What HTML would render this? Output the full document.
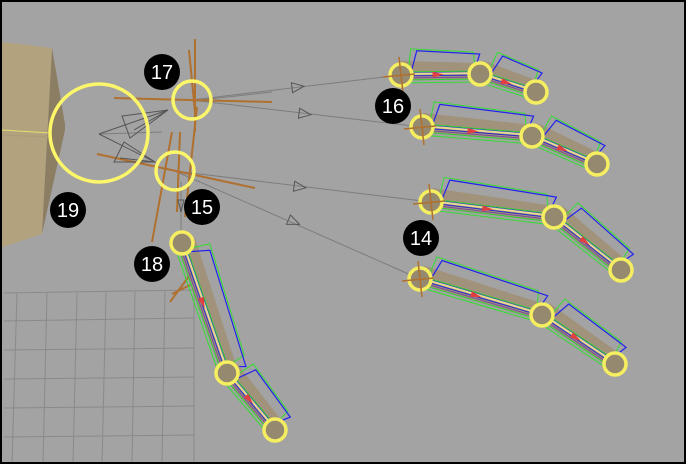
<!DOCTYPE html>
<html><head><meta charset="utf-8"><style>
html,body{margin:0;padding:0;background:#a3a3a3}
#v{position:relative;width:686px;height:464px;overflow:hidden;box-sizing:border-box;border:2px solid #000;background:#a3a3a3}
svg{position:absolute;left:0;top:0}
</style></head><body>
<div id="v">
<svg id="s" width="686" height="464" viewBox="0 0 686 464" font-family="Liberation Sans, sans-serif">
 <g stroke="#8a8a8a" stroke-width="1" fill="none">
  <path d="M2 291 L192 288 M2 319 L192 316 M2 348 L192 346 M2 377 L192 375 M2 406 L192 404 M2 435 L192 433"/>
  <path d="M15 291 L10 462 M45 291 L41 462 M75 291 L71 462 M104 290 L100 462 M133 290 L130 462 M163 289 L160 462 M192 288 L192 462"/>
 </g>
 <g>
  <polygon points="0,40 50,46 40,232 0,245" fill="#b3a27e"/>
  <polygon points="50,46 63,122 63,128 40,232" fill="#8c7e62"/>
  <line x1="0" y1="128" x2="48" y2="131" stroke="#e8e070" stroke-width="1"/>
  <line x1="0" y1="133" x2="48" y2="135" stroke="#a89a7a" stroke-width="1"/>
 </g>
 <g id="links" stroke="#7d7d7d" stroke-width="1" fill="none">
  <path d="M189 98 L399 73 M189 98 L420 125 M173 169 L429 200 M173 169 L418 277 M190 99 L270 90 M97 132 L160 130 M179 180 L179 232"/>
 </g>
 <g id="orange" stroke="#b0702f" stroke-width="2" fill="none">
  <path d="M112 96 L270 100 M193 37 L193 130 M187 48 L193 110 M195 105 L183 215 M95 152 L253 186 M170 130 L150 240 M178 130 L175 210 M168 300 L190 270 M170 292 L188 283"/>
 </g>
 <g stroke="#555" stroke-width="1" fill="none">
  <path d="M166 108 L120 114 L128 136 Z M120 114 L166 108 L132 128"/>
  <path d="M153 160 L122 140 L112 160 Z M122 140 L153 160 L118 156"/>
  <path d="M97 132 L166 108 M97 132 L153 160"/>
  <path d="M176 198 L182 198 L179 210 Z"/>
 </g>
 <circle cx="97" cy="131" r="49" fill="none" stroke="#fbf66a" stroke-width="3.5"/>
 <circle cx="190" cy="98" r="19" fill="none" stroke="#fbf66a" stroke-width="3.5"/>
 <circle cx="173" cy="169" r="19" fill="none" stroke="#fbf66a" stroke-width="3.5"/>
 <g id="fingers"></g>
 <g font-size="20" fill="#fff" text-anchor="middle">
  <g><circle cx="160" cy="70" r="18" fill="#000"/><text x="160" y="77" fill="#fff">17</text></g>
  <g><circle cx="391" cy="104" r="18" fill="#000"/><text x="391" y="111" fill="#fff">16</text></g>
  <g><circle cx="66" cy="208" r="18" fill="#000"/><text x="66" y="215" fill="#fff">19</text></g>
  <g><circle cx="200" cy="205" r="18" fill="#000"/><text x="200" y="212" fill="#fff">15</text></g>
  <g><circle cx="150" cy="262" r="18" fill="#000"/><text x="150" y="269" fill="#fff">18</text></g>
  <g><circle cx="419" cy="236" r="18" fill="#000"/><text x="419" y="243" fill="#fff">14</text></g>
 </g>
</svg>
</div>
<script>
const fingerNames=['finger-index','finger-middle','finger-ring','finger-pinky','finger-thumb'];
const jointsX=[[399,478,534],[420,530,595],[429,552,619],[418,540,613],[180,225,273]];
const jointsY=[[73,72,90],[125,134,162],[200,215,268],[277,313,362],[241,371,428]];
const arrowX=[296,303,298,292];
const arrowY=[85,112,185,220];
const NS='http://www.w3.org/2000/svg';
const g=document.getElementById('fingers');
function mk(t,a,p){const e=document.createElementNS(NS,t);for(const k in a)e.setAttribute(k,a[k]);(p||g).appendChild(e);return e;}
function pt(x,y){return x.toFixed(1)+','+y.toFixed(1);}
const links=document.getElementById('links');
for(let i=0;i<arrowX.length;i++){
  const src=i<2?[189,98]:[173,169];
  const dx=arrowX[i]-src[0],dy=arrowY[i]-src[1],L=Math.hypot(dx,dy),ux=dx/L,uy=dy/L,nx=-uy,ny=ux;
  const tx=arrowX[i]+ux*6,ty=arrowY[i]+uy*6,bx=arrowX[i]-ux*6,by=arrowY[i]-uy*6;
  const a=mk('polygon',{points:pt(tx,ty)+' '+pt(bx+nx*5,by+ny*5)+' '+pt(bx-nx*5,by-ny*5),fill:'none',stroke:'#555','stroke-width':1},links);
  
  
}
for(let f=0;f<jointsX.length;f++){
  const fg=mk('g',{});
  
  
  const xs=jointsX[f],ys=jointsY[f];
  for(let s=0;s<xs.length-1;s++){
    const ax=xs[s],ay=ys[s],bx=xs[s+1],by=ys[s+1];
    const dx=bx-ax,dy=by-ay,L=Math.hypot(dx,dy),ux=dx/L,uy=dy/L;
    const nx=uy,ny=-ux;
    const P=(t,o)=>pt(ax+ux*t+nx*o,ay+uy*t+ny*o);
    const bone=mk('polygon',{points:P(0,14)+' '+P(L,11)+' '+P(L,-5)+' '+P(0,-5),fill:'rgba(160,140,105,0.7)'},fg);
    
    
    const gq=mk('polygon',{points:P(6,-8)+' '+P(10,26)+' '+P(L*0.92,22)+' '+P(L-4,-8),fill:'none',stroke:'#33dd33','stroke-width':1},fg);
    
    
    const bq=mk('polygon',{points:P(10,2)+' '+P(16,24)+' '+P(L,20)+' '+P(L-6,2),fill:'none',stroke:'#2222ee','stroke-width':1.2},fg);
    
    
    const lines=[[1,'#e8d890',2],[-1,'#2a2ad0',1],[-3,'#7a4aa0',1],[-5,'#33cc33',1],[3,'#33cc33',1]];
    for(const [o,c,w] of lines){
      const ln=mk('line',{x1:ax+ux*8+nx*o,y1:ay+uy*8+ny*o,x2:bx-ux*8+nx*o,y2:by-uy*8+ny*o,stroke:c,'stroke-width':w},fg);
      
      
    }
    const mx=ax+dx*0.45,my=ay+dy*0.45;
    const ar=mk('polygon',{points:pt(mx+ux*7,my+uy*7)+' '+pt(mx-ux*4+nx*3,my-uy*4+ny*3)+' '+pt(mx-ux*4-nx*3,my-uy*4-ny*3),fill:'#e04040'},fg);
    
    
  }
  for(let j=0;j<xs.length;j++){
    const c=mk('circle',{cx:xs[j],cy:ys[j],r:11,fill:'#95896f',stroke:'#f4ee60','stroke-width':3.5},fg);
    
    
  }
  if(f<4){
    const o=mk('path',{d:`M${xs[0]-18} ${ys[0]+2} L${xs[0]+14} ${ys[0]-1} M${xs[0]-2} ${ys[0]-18} L${xs[0]+2} ${ys[0]+18}`,stroke:'#b0702f','stroke-width':1.5,fill:'none'},fg);
    
    
  }
}
</script>
</body></html>
